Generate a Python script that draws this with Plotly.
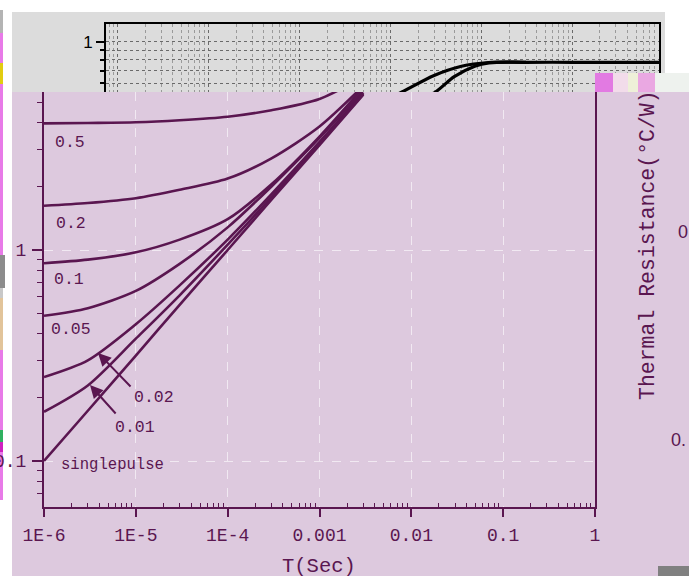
import math
import plotly.graph_objects as go

W, H = 689, 576

# ---------------- data ----------------
t = [1e-6, 3e-6, 1e-5, 3e-5, 1e-4, 3e-4, 1e-3, 3e-3]
z_d50 = [3.98, 4.00, 4.03, 4.12, 4.28, 4.60, 5.20, 6.60]
z_d20 = [1.62, 1.67, 1.76, 1.93, 2.18, 2.72, 3.85, 6.00]
z_d10 = [0.865, 0.90, 0.975, 1.12, 1.40, 2.05, 3.45, 5.90]
z_d05 = [0.488, 0.53, 0.64, 0.86, 1.28, 2.00, 3.40, 5.70]
z_d02 = [0.250, 0.30, 0.445, 0.68, 1.12, 1.84, 3.25, 5.55]
z_d01 = [0.171, 0.228, 0.38, 0.61, 1.06, 1.78, 3.20, 5.50]
z_single = [0.100, 0.173, 0.316, 0.55, 1.00, 1.73, 3.14, 5.45]

series_names = ["0.5", "0.2", "0.1", "0.05", "0.02", "0.01", "singlepulse"]
series_values = [z_d50, z_d20, z_d10, z_d05, z_d02, z_d01, z_single]

# upper (grey) chart fragment
t_top_a = [0.005, 0.0133, 0.03, 0.06, 0.12, 0.3, 1.0, 10.0]
z_top_a = [0.42, 0.537, 0.66, 0.74, 0.775, 0.777, 0.777, 0.777]
t_top_b = [0.012, 0.031, 0.05, 0.084, 0.12, 0.3]
z_top_b = [0.42, 0.537, 0.65, 0.74, 0.772, 0.777]

x_tickvals = [1e-6, 1e-5, 1e-4, 1e-3, 1e-2, 1e-1, 1]
x_ticktext = ["1E-6", "1E-5", "1E-4", "0.001", "0.01", "0.1", "1"]
y_tickvals = [0.1, 1]
y_ticktext = ["0.1", "1"]

x_title = "T(Sec)"
y_title = "Thermal Resistance(°C/W)"

# ---------------- styling ----------------
PURPLE = "#5a1650"
LAV = "#ddc9de"
GREY = "#dcdcdc"
MONO = "Liberation Mono, DejaVu Sans Mono, monospace"
SANS = "Liberation Sans, Arial, sans-serif"


def px(x):
    return x / W


def py(y):
    return 1 - y / H


x_minor = [d * 10 ** e for e in range(-6, 0) for d in range(2, 10)]
y_minor = [d * 10 ** e for e in range(-2, 1) for d in range(2, 10)]
x2_minor = [d * 10 ** e for e in range(-6, 1) for d in range(2, 10)]
y2_minor = [0.5, 0.6, 0.7, 0.8, 0.9]

fig = go.Figure()

for name, vals in zip(series_names, series_values):
    fig.add_trace(go.Scatter(
        x=t, y=vals, mode="lines", name=name,
        line=dict(color=PURPLE, width=2.6, shape="spline", smoothing=0.8),
        xaxis="x", yaxis="y", showlegend=False, hoverinfo="skip"))

for tt, zz in [(t_top_a, z_top_a), (t_top_b, z_top_b)]:
    fig.add_trace(go.Scatter(
        x=tt, y=zz, mode="lines",
        line=dict(color="#000000", width=3.2, shape="spline", smoothing=0.8),
        xaxis="x2", yaxis="y2", showlegend=False, hoverinfo="skip"))

shapes = []


def rect(x0, y0, x1, y1, color, layer="below"):
    shapes.append(dict(type="rect", xref="paper", yref="paper",
                       x0=px(x0), x1=px(x1), y0=py(y1), y1=py(y0),
                       fillcolor=color, line=dict(width=0), layer=layer))


rect(12, 12, 665, 92, GREY)
rect(12, 92, 689, 576, LAV)
# left edge strip
rect(0, 10, 3, 33, "#b4b4b4")
rect(0, 33, 3, 63, "#e87ae8")
rect(0, 63, 3, 84, "#e2cc10")
rect(0, 84, 3, 255, "#e87ae8")
rect(0, 255, 5, 288, "#8c8c8c")
rect(0, 288, 3, 298, "#c8c8c8")
rect(0, 298, 3, 350, "#e2c49a")
rect(0, 350, 3, 430, "#e87ae8")
rect(0, 430, 3, 442, "#30b060")
rect(0, 442, 3, 452, "#d020c0")
rect(0, 452, 3, 500, "#e87ae8")
# top-right glitch blocks
rect(595, 73, 613, 92, "#e27ae2", "above")
rect(613, 73, 628, 92, "#f2dcea", "above")
rect(628, 73, 638, 92, "#eef0d8", "above")
rect(638, 73, 655, 92, "#eaa8e2", "above")
rect(655, 73, 689, 92, "#eef2ee", "above")
# bottom-right grey
rect(658, 566, 689, 576, "#808080", "above")

annotations = []


def label(text, x, y, size=16, color=PURPLE, family=MONO, angle=0, xanchor="center"):
    annotations.append(dict(text=text, x=px(x), y=py(y), xref="paper", yref="paper",
                            showarrow=False, xanchor=xanchor, yanchor="middle",
                            textangle=angle,
                            font=dict(family=family, size=size, color=color)))


label(series_names[0], 70, 142, size=16.5)
label(series_names[1], 71, 224, size=16.5)
label(series_names[2], 69, 279, size=16.5)
label(series_names[3], 71, 329, size=16.5)
label(series_names[4], 154, 397, size=16.5)
label(series_names[5], 135, 427, size=16.5)
label(series_names[6], 113, 465, size=15.6)
label(x_title, 319, 566, size=20.5)
label(y_title, 648, 245, size=21.5, angle=-90)
label("0", 676, 232, size=18, family=SANS, xanchor="left")
label("0.", 669, 440, size=18, family=SANS, xanchor="left")


def arrow(hx, hy, tx, ty):
    annotations.append(dict(text="", x=px(hx), y=py(hy), xref="paper", yref="paper",
                            ax=tx - hx, ay=ty - hy, showarrow=True,
                            arrowhead=2, arrowsize=1.3, arrowwidth=2,
                            arrowcolor=PURPLE, standoff=0))


arrow(98, 353, 132, 388)
arrow(90, 385, 117, 415)

fig.update_layout(
    width=W, height=H,
    margin=dict(l=0, r=0, t=0, b=0, pad=0, autoexpand=False),
    paper_bgcolor="#ffffff",
    plot_bgcolor="rgba(0,0,0,0)",
    shapes=shapes,
    annotations=annotations,
    xaxis=dict(
        type="log", range=[-6, 0], domain=[px(44), px(595)], anchor="y",
        tickmode="array", tickvals=x_tickvals, ticktext=x_ticktext,
        ticks="outside", ticklen=8, tickwidth=1.5, tickcolor=PURPLE,
        showline=True, linecolor=PURPLE, linewidth=2, mirror=False,
        showgrid=True, gridcolor="rgba(255,255,255,0.6)", griddash="dash", gridwidth=1,
        minor=dict(tickmode="array", tickvals=x_minor, ticks="inside", ticklen=4,
                   tickwidth=1.2, tickcolor=PURPLE, showgrid=False),
        tickfont=dict(family=MONO, size=18, color=PURPLE),
        ticklabelstandoff=2, zeroline=False, automargin=False,
    ),
    yaxis=dict(
        type="log", range=[-1.218, 0.7488], domain=[py(507), py(92)], anchor="x",
        tickmode="array", tickvals=y_tickvals, ticktext=y_ticktext,
        ticks="outside", ticklen=10, tickwidth=1.5, tickcolor=PURPLE,
        showline=True, linecolor=PURPLE, linewidth=2, mirror=True,
        showgrid=True, gridcolor="rgba(255,255,255,0.6)", griddash="dash", gridwidth=1,
        minor=dict(tickmode="array", tickvals=y_minor, ticks="outside", ticklen=5,
                   tickwidth=1.2, tickcolor=PURPLE, showgrid=False),
        tickfont=dict(family=MONO, size=18, color=PURPLE),
        ticklabelstandoff=2, zeroline=False, automargin=False,
    ),
    xaxis2=dict(
        type="log", range=[-5.13, 0.95], domain=[px(106), px(659)], anchor="y2",
        side="top", showline=True, linecolor="#000000", linewidth=2,
        showticklabels=False, ticks="",
        showgrid=True, gridcolor="#6a6a6a", griddash="dot", gridwidth=1,
        minor=dict(tickmode="array", tickvals=x2_minor, showgrid=True,
                   gridcolor="#9a9a9a", griddash="dot", gridwidth=1),
        zeroline=False, automargin=False,
    ),
    yaxis2=dict(
        type="log", range=[-0.27, 0.097], domain=[py(92), py(24)], anchor="x2",
        showline=True, linecolor="#000000", linewidth=2, mirror=True,
        tickmode="array", tickvals=[1], ticktext=["1"],
        ticks="outside", ticklen=8, tickwidth=1.5, tickcolor="#000000",
        showgrid=True, gridcolor="#6a6a6a", griddash="dot", gridwidth=1,
        minor=dict(tickmode="array", tickvals=y2_minor, ticks="outside", ticklen=4,
                   tickcolor="#000000", showgrid=True, gridcolor="#6a6a6a",
                   griddash="dot", gridwidth=1),
        tickfont=dict(family=SANS, size=17, color="#000000"),
        zeroline=False, automargin=False,
    ),
)

fig.write_html("out.html", config={"displayModeBar": False},
               post_script="document.body.style.margin='0px';")
